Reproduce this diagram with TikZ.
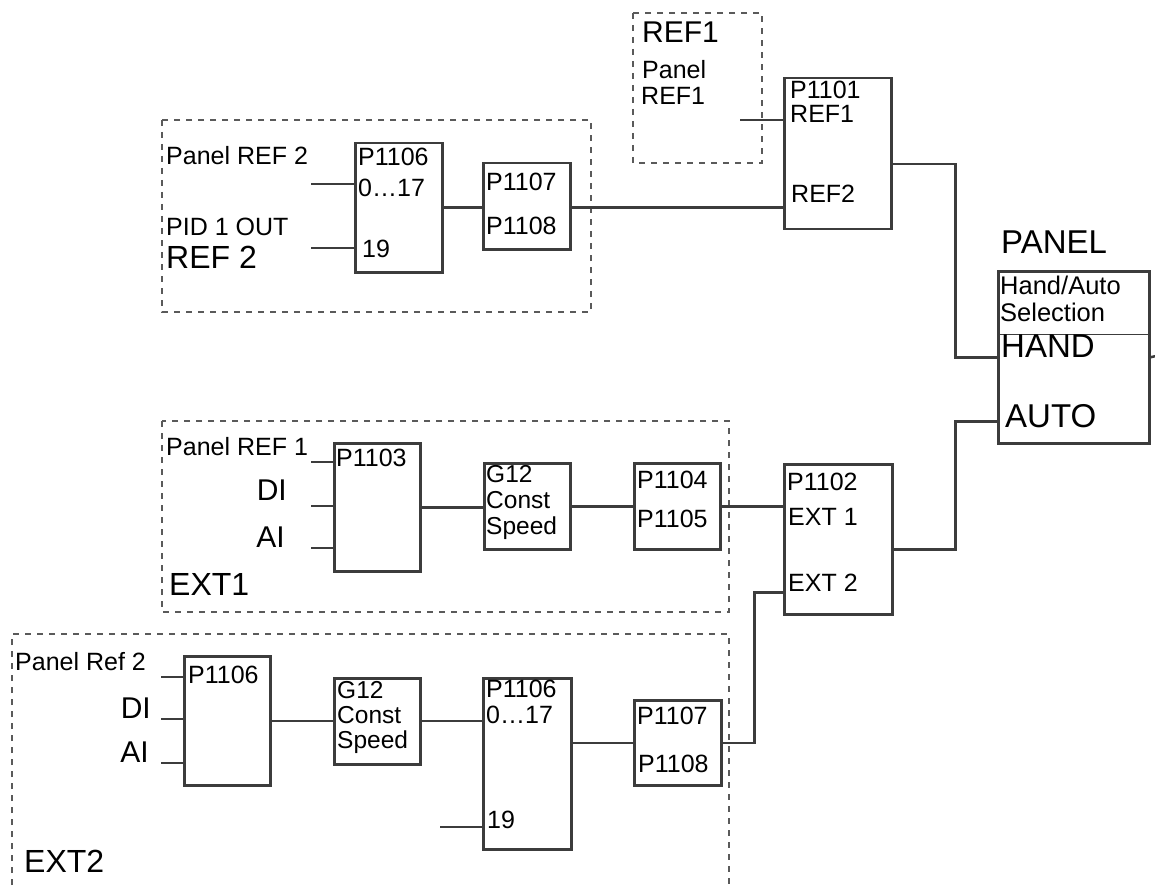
\documentclass[tikz,border=0pt]{standalone}
\usepackage{fontspec}
\setmainfont{Liberation Sans}
\definecolor{lc}{RGB}{60,60,60}
\definecolor{dc}{RGB}{90,90,90}
\begin{document}
\begin{tikzpicture}[x=1pt,y=-1pt,
  blk/.style={draw=lc, line width=2.5pt, rectangle, inner sep=0pt, anchor=north west},
  wire/.style={draw=lc, line width=2.5pt},
  dbox/.style={draw=dc, line width=1.1pt, dash pattern=on 6pt off 6pt},
  sm/.style={font=\fontsize{25}{28}\selectfont, inner sep=0pt, anchor=base west},
  gs/.style={font=\fontsize{24.5}{26}\selectfont, inner sep=0pt, anchor=base west},
  lg/.style={font=\fontsize{32}{34}\selectfont, inner sep=0pt, anchor=base west},
  hg/.style={font=\fontsize{33}{35}\selectfont, inner sep=0pt, anchor=base west},
  big/.style={font=\fontsize{30}{32}\selectfont, inner sep=0pt, anchor=base east},
]
\useasboundingbox (0,0) rectangle (1155,885);

% dashed group frames
\draw[dbox] (633,13) rectangle (762,163);
\draw[dbox] (162,120) rectangle (591,312);
\draw[dbox] (162,421) rectangle (729,612);
\draw[dbox] (12,885) -- (12,634) -- (729,634) -- (729,885);

% blocks
\node[blk, minimum width=107pt, minimum height=151pt] (p1101) at (783,77) {};
\node[blk, minimum width=87pt, minimum height=129pt] (p1106a) at (354,142) {};
\node[blk, minimum width=87pt, minimum height=86pt] (p1107a) at (482,162) {};
\node[blk, minimum width=151pt, minimum height=172pt] (panel) at (997,270) {};
\draw[lc, line width=1pt] (panel.west |- 0,334) -- (panel.east |- 0,334);
\node[blk, minimum width=108pt, minimum height=150pt] (p1102) at (783,463) {};
\node[blk, minimum width=86pt, minimum height=128pt] (p1103) at (333,442) {};
\node[blk, minimum width=86pt, minimum height=86pt] (g12a) at (483,462) {};
\node[blk, minimum width=86pt, minimum height=86pt] (p1104) at (633,462) {};
\node[blk, minimum width=86pt, minimum height=129pt] (p1106c) at (183,655) {};
\node[blk, minimum width=86pt, minimum height=86pt] (g12b) at (333,677) {};
\node[blk, minimum width=88pt, minimum height=171pt] (p1106d) at (482,677) {};
\node[blk, minimum width=87pt, minimum height=85pt] (p1107b) at (633,699) {};

% free ends
\coordinate (inref1) at (740,120);
\coordinate (in17) at (311,184);
\coordinate (in19) at (311,248);
\coordinate (inpr1) at (311,462);
\coordinate (indi1) at (311,506);
\coordinate (inai1) at (311,548);
\coordinate (inpr2) at (161,677);
\coordinate (indi2) at (161,719);
\coordinate (inai2) at (161,763);
\coordinate (in19b) at (440,827);
\coordinate (pout) at (1156,356);

% connectors
\draw[wire] (inref1) -- (p1101.west |- inref1);
\draw[wire] (in17) -- (p1106a.west |- in17);
\draw[wire] (in19) -- (p1106a.west |- in19);
\draw[wire] (p1106a.east) -- (p1107a.west |- p1106a.east);
\draw[wire] (p1107a.east |- p1106a.east) -- (p1101.west |- p1106a.east);
\draw[wire] ([yshift=-10.5pt]p1101.east) -- ++(63,0) |- (panel.west);
\draw[wire] (panel.east) -- (pout);
\draw[wire] ([yshift=-10pt]p1102.east) -- ++(62,0) |- ([yshift=-64pt]panel.west);
\draw[wire] (inpr1) -- (p1103.west |- inpr1);
\draw[wire] (indi1) -- (p1103.west |- indi1);
\draw[wire] (inai1) -- (p1103.west |- inai1);
\draw[wire] (p1103.east) -- (g12a.west |- p1103.east);
\draw[wire] (g12a.east) -- (p1104.west);
\draw[wire] (p1104.east) -- (p1102.west |- p1104.east);
\draw[wire] (inpr2) -- (p1106c.west |- inpr2);
\draw[wire] (indi2) -- (p1106c.west |- indi2);
\draw[wire] (inai2) -- (p1106c.west |- inai2);
\draw[wire] (p1106c.east) -- (g12b.west |- p1106c.east);
\draw[wire] (g12b.east |- p1106c.east) -- (p1106d.west |- p1106c.east);
\draw[wire] (in19b) -- (p1106d.west |- in19b);
\draw[wire] (p1106d.east |- p1107b.west) -- (p1107b.west);
\draw[wire] (p1107b.east) -- ++(32,0) |- ([yshift=-53pt]p1102.west);

% texts: REF1 group
\node[font=\fontsize{30}{32}\selectfont, inner sep=0pt, anchor=base west] (t1) at (642,43) {REF1};
\node[sm] (t2) at (642,79) {Panel};
\node[sm] (t3) at (641,105) {REF1};
\node[sm] (t4) at (790,99) {P1101};
\node[sm] (t5) at (790,123) {REF1};
\node[sm] (t6) at (791,203) {REF2};

% REF 2 group
\node[sm] (t7) at (166,165) {Panel REF 2};
\node[sm] (t8) at (166,236) {PID 1 OUT};
\node[lg] (t9) at (166,268) {REF 2};
\node[sm] (t10) at (358,166) {P1106};
\node[sm] (t11) at (358,197) {0…17};
\node[sm] (t12) at (362,257) {19};
\node[sm] (t13) at (486,191) {P1107};
\node[sm] (t14) at (486,234) {P1108};

% panel
\node[hg] (t15) at (1001,253) {PANEL};
\node[font=\fontsize{25.5}{27}\selectfont, inner sep=0pt, anchor=base west] (t16) at (1000,294) {Hand/Auto};
\node[font=\fontsize{25.5}{27}\selectfont, inner sep=0pt, anchor=base west] (t17) at (1000,321) {Selection};
\node[hg] (t18) at (1001,357) {HAND};
\node[hg] (t19) at (1005,427) {AUTO};

% P1102
\node[sm] (t20) at (787,490) {P1102};
\node[sm] (t21) at (788,525) {EXT 1};
\node[sm] (t22) at (788,591) {EXT 2};

% EXT1 group
\node[sm] (t23) at (166,455) {Panel REF 1};
\node[big] (t24) at (287,500) {DI};
\node[big] (t25) at (285,547) {AI};
\node[lg] (t26) at (169,595) {EXT1};
\node[sm] (t27) at (336,466) {P1103};
\node[gs] (t28) at (486,482) {G12};
\node[gs] (t29) at (486,508) {Const};
\node[gs] (t30) at (486,534) {Speed};
\node[sm] (t31) at (637,488) {P1104};
\node[sm] (t32) at (637,527) {P1105};

% EXT2 group
\node[sm] (t33) at (15,670) {Panel Ref 2};
\node[big] (t34) at (151,718) {DI};
\node[big] (t35) at (149,762) {AI};
\node[lg] (t36) at (24,872) {EXT2};
\node[sm] (t37) at (188,683) {P1106};
\node[gs] (t38) at (337,698) {G12};
\node[gs] (t39) at (337,723) {Const};
\node[gs] (t40) at (337,748) {Speed};
\node[sm] (t41) at (486,697) {P1106};
\node[sm] (t42) at (486,723) {0…17};
\node[sm] (t43) at (487,828) {19};
\node[sm] (t44) at (637,724) {P1107};
\node[sm] (t45) at (638,772) {P1108};
\end{tikzpicture}
\end{document}
